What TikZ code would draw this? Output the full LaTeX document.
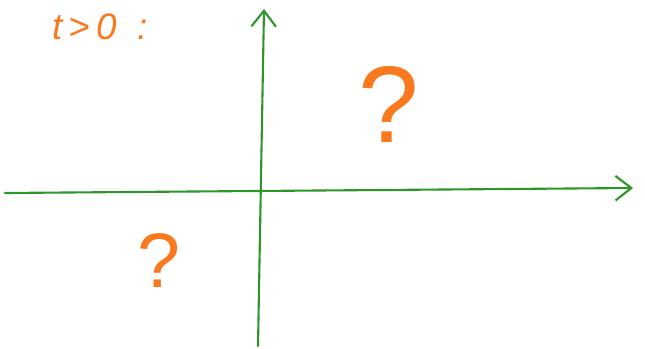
\documentclass[tikz,border=0pt]{standalone}
\usepackage{fontspec}
\setmainfont{Liberation Sans}
\usepackage{xcolor}
\usetikzlibrary{arrows.meta, positioning}

\definecolor{penorange}{RGB}{250,120,30}
\definecolor{pengreen}{RGB}{45,150,40}

\begin{document}
\begin{tikzpicture}[
  x=0.02cm, y=-0.02cm,
  axis/.style={pengreen, line width=1.2pt, line cap=round, -{Straight Barb[length=9pt, width=14pt, line width=1.2pt]}},
  mark/.style={penorange, inner sep=0pt, font=\fontsize{#1}{#1}\selectfont},
  mark/.default=20pt
]
\useasboundingbox (0,0) rectangle (645,348);

% axes
\coordinate (xl) at (5,193);
\coordinate (xr) at (633,188);
\coordinate (yb) at (258,346);
\coordinate (yt) at (264,9);
\draw[axis] (xl) -- (xr);
\draw[axis] (yb) -- (yt);

% labels
\node[mark=21pt, anchor=west] (cond) at (52,27) {\itshape t\,>\,0\ \ :};
\node[mark=62pt] (qbig) at (389,104) {?};
\node[mark=44pt] (qsmall) at (159,261) {?};

\end{tikzpicture}
\end{document}
